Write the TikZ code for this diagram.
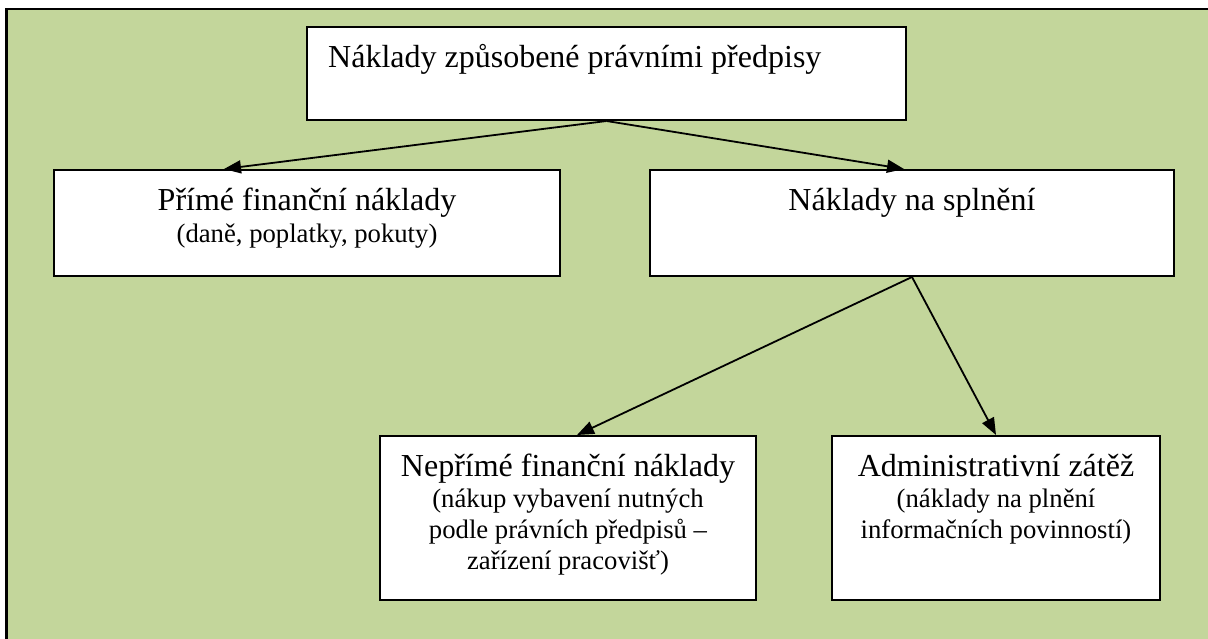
\documentclass[tikz,border=0pt]{standalone}
\usepackage{fontspec}
\setmainfont{Liberation Serif}
\usetikzlibrary{arrows.meta,calc}
\definecolor{bggreen}{HTML}{C3D69B}
\tikzset{
  box/.style={draw=black, line width=2pt, fill=white, rectangle, inner sep=0pt},
  conn/.style={line width=1.8pt, -{Triangle[length=17pt,width=13pt]}},
  maintxt/.style={anchor=base, inner sep=0pt, font=\fontsize{32}{38}\selectfont},
  subtxt/.style={anchor=base, inner sep=0pt, font=\fontsize{26.7}{31}\selectfont},
}
\begin{document}
\begin{tikzpicture}[x=1pt,y=-1pt]
\useasboundingbox (0,0) rectangle (1208,639);
% background frame
\fill[bggreen] (6.5,9) rectangle (1208,639);
\draw[line width=2.4pt] (6.5,639) -- (6.5,9) -- (1208,9);
% boxes
\node[box, minimum width=599pt, minimum height=93pt] (top) at (606.5,73.5) {};
\node[box, minimum width=506pt, minimum height=106pt] (pf) at (307,223) {};
\node[box, minimum width=524pt, minimum height=106pt] (ns) at (912,223) {};
\node[box, minimum width=376pt, minimum height=164pt] (npf) at (568,518) {};
\node[box, minimum width=328pt, minimum height=164pt] (az) at (996,518) {};
% texts
\node[maintxt, anchor=base west] (ttop) at (328,68) {Náklady způsobené právními předpisy};
\node[maintxt] (tpf) at (307,211) {Přímé finanční náklady};
\node[subtxt] (spf) at (307,243) {(daně, poplatky, pokuty)};
\node[maintxt] (tns) at (912,211) {Náklady na splnění};
\node[maintxt] (tnpf) at (568,476) {Nepřímé finanční náklady};
\node[subtxt] (snpf1) at (568,507) {(nákup vybavení nutných};
\node[subtxt] (snpf2) at (568,538) {podle právních předpisů –};
\node[subtxt] (snpf3) at (568,569) {zařízení pracovišť)};
\node[maintxt] (taz) at (996,476) {Administrativní zátěž};
\node[subtxt] (saz1) at (996,507) {(náklady na plnění};
\node[subtxt] (saz2) at (996,538) {informačních povinností)};
% connectors
\draw[conn] (top.south) -- ([xshift=-83pt]pf.north);
\draw[conn] (top.south) -- ([xshift=-8pt]ns.north);
\draw[conn] (ns.south) -- ([xshift=9pt]npf.north);
\draw[conn] (ns.south) -- (az.north);
\end{tikzpicture}
\end{document}
